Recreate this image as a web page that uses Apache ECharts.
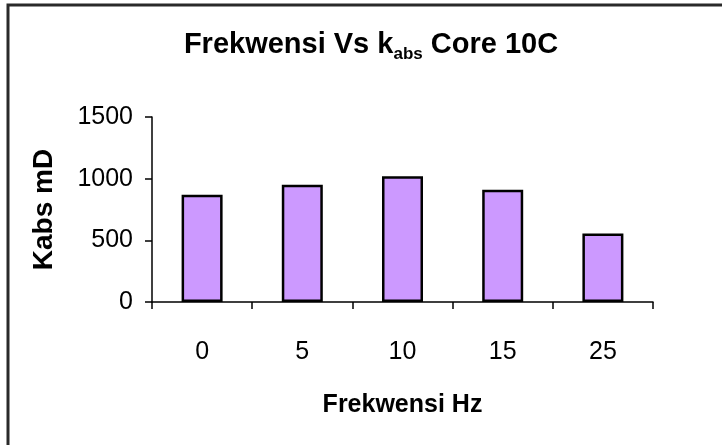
<!DOCTYPE html>
<html>
<head>
<meta charset="utf-8">
<script src="https://cdn.jsdelivr.net/npm/echarts@6/dist/echarts.min.js"></script>
<style>
html,body{margin:0;padding:0;background:#fff;}
#chart{width:722px;height:445px;}
</style>
</head>
<body>
<div id="chart"></div>
<script>
var categories = ['0', '5', '10', '15', '25'];
var kabsValues = [870, 950, 1020, 910, 555];
var yTicks = [0, 500, 1000, 1500];

var chart = echarts.init(document.getElementById('chart'));
var FONT = 'Liberation Sans, Arial, sans-serif';
chart.setOption({
  animation: false,
  backgroundColor: '#ffffff',
  title: {
    text: '{t|Frekwensi Vs k}{s|abs}{t| Core 10C}',
    left: 366,
    textAlign: 'center',
    top: 22,
    textStyle: {
      rich: {
        t: { fontFamily: FONT, fontWeight: 'bold', fontSize: 29, color: '#000', lineHeight: 36 },
        s: { fontFamily: FONT, fontWeight: 'bold', fontSize: 17, color: '#000', lineHeight: 36, verticalAlign: 'bottom', padding: [10, 0, 0, 0] }
      }
    }
  },
  graphic: [{
    type: 'rect',
    shape: { x: 8, y: 5, width: 740, height: 470 },
    style: { fill: 'none', stroke: '#2a2a2a', lineWidth: 3 },
    silent: true
  }],
  grid: { left: 152, right: 69, top: 117, bottom: 143, containLabel: false },
  xAxis: {
    type: 'category',
    data: categories,
    name: 'Frekwensi Hz',
    nameLocation: 'middle',
    nameGap: 91,
    nameTextStyle: { fontFamily: FONT, fontWeight: 'bold', fontSize: 25, color: '#000' },
    axisLine: { lineStyle: { color: '#000', width: 1.5 } },
    axisTick: { show: true, alignWithLabel: false, length: 7, inside: false, lineStyle: { color: '#000', width: 1.5 } },
    axisLabel: { fontFamily: FONT, fontSize: 25, color: '#000', margin: 38 }
  },
  yAxis: {
    type: 'value',
    min: yTicks[0],
    max: yTicks[yTicks.length - 1],
    interval: 500,
    name: 'Kabs mD',
    nameLocation: 'middle',
    nameGap: 94,
    nameRotate: 90,
    nameTextStyle: { fontFamily: FONT, fontWeight: 'bold', fontSize: 28, color: '#000' },
    splitLine: { show: false },
    axisLine: { show: true, lineStyle: { color: '#000', width: 1.5 } },
    axisTick: { show: true, length: 7, lineStyle: { color: '#000', width: 1.5 } },
    axisLabel: { fontFamily: FONT, fontSize: 25, color: '#000', margin: 19, formatter: function (v) { return String(v); } }
  },
  series: [{
    type: 'bar',
    data: kabsValues,
    barWidth: 41,
    itemStyle: { color: '#CC99FF', borderColor: '#000', borderWidth: 2.5 }
  }]
});
</script>
</body>
</html>
